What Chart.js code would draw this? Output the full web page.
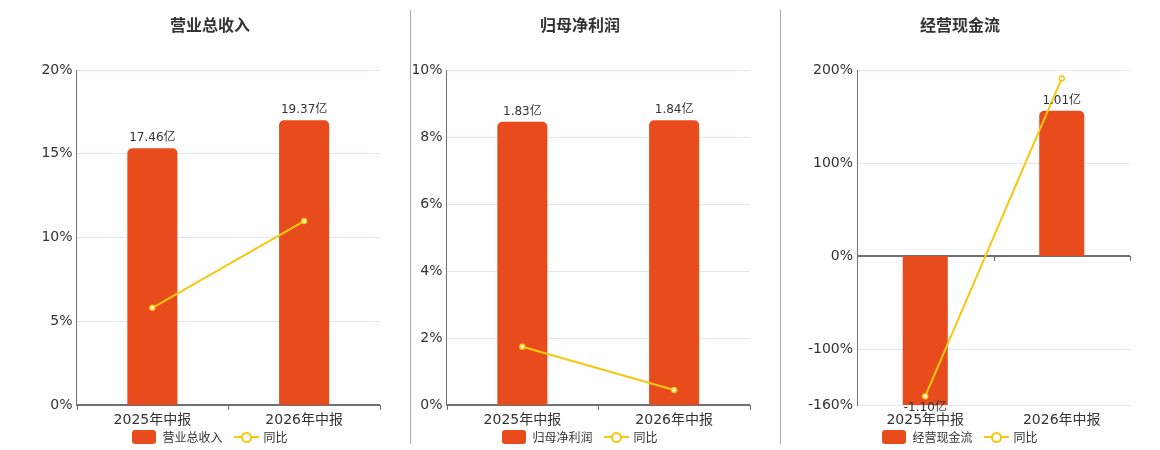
<!DOCTYPE html>
<html>
<head>
<meta charset="utf-8">
<script src="https://cdn.jsdelivr.net/npm/chart.js@4"></script>
<style>
  body { margin: 0; background: #fff; font-family: "DejaVu Sans", "Noto Sans CJK SC", sans-serif; }
  #wrap { position: relative; width: 1160px; height: 450px; overflow: hidden; }
  canvas { position: absolute; top: 0; }
  .divider { position: absolute; top: 10px; width: 1px; height: 434px; background: #aaa; }
  .title { position: absolute; top: 12px; width: 200px; margin-left: -100px; text-align: center;
           font: bold 16px "Noto Sans CJK SC", sans-serif; color: #333; }
  .legend { position: absolute; top: 428px; width: 300px; margin-left: -150px; display: flex;
            justify-content: center; align-items: center; font: 12px "Noto Sans CJK SC", sans-serif; color: #333; }
  .sw-bar { width: 24px; height: 14px; border-radius: 3px; background: #e84c1c; margin-right: 6px; }
  .sw-line { position: relative; width: 25px; height: 14px; margin-left: 11px; margin-right: 5px; }
  .sw-line::before { content: ""; position: absolute; left: 0; right: 0; top: 6px; height: 2px; background: #f5c80f; }
  .sw-line::after { content: ""; position: absolute; left: 7px; top: 2px; width: 7px; height: 7px;
                    border: 2px solid #f5c80f; border-radius: 50%; background: #fff; }
</style>
</head>
<body>
<div id="wrap">
  <canvas id="c1"></canvas>
  <canvas id="c2"></canvas>
  <canvas id="c3"></canvas>
  <div class="divider" style="left:410px"></div>
  <div class="divider" style="left:780px"></div>
  <div class="title" style="left:210px">营业总收入</div>
  <div class="title" style="left:580px">归母净利润</div>
  <div class="title" style="left:960px">经营现金流</div>
  <div class="legend" style="left:210px"><span class="sw-bar"></span>营业总收入<span class="sw-line"></span>同比</div>
  <div class="legend" style="left:580px"><span class="sw-bar"></span>归母净利润<span class="sw-line"></span>同比</div>
  <div class="legend" style="left:960px"><span class="sw-bar"></span>经营现金流<span class="sw-line"></span>同比</div>
</div>
<script>
// categories
const periods = ['2025年中报', '2026年中报'];

// values in 亿
const revenue = [17.46, 19.37];
const profit = [1.83, 1.84];
const cashFlow = [-1.10, 1.01];

// 同比 (%)
const revenueYoy = [5.8, 10.98];
const profitYoy = [1.74, 0.45];
const cashFlowYoy = [-150.5, 191];

// y axis ticks (%)
const revenueTicks = [0, 5, 10, 15, 20];
const profitTicks = [0, 2, 4, 6, 8, 10];
const cashFlowTicks = [-160, -100, 0, 100, 200];

const barColor = '#e84c1c';
const lineColor = '#f5c80f';
const axisColor = '#6e7079';
const textColor = '#333';

// axis line drawn at zero with tick marks between categories
const zeroAxis = {
  id: 'zeroAxis',
  beforeDatasetsDraw(chart) {
    const { ctx, chartArea } = chart;
    const y0 = Math.round(chart.scales.y.getPixelForValue(0));
    const n = chart.data.labels.length;
    const w = chartArea.right - chartArea.left;
    ctx.save();
    ctx.strokeStyle = axisColor;
    ctx.lineWidth = 2;
    ctx.beginPath();
    ctx.moveTo(chartArea.left, y0);
    ctx.lineTo(chartArea.right, y0);
    ctx.stroke();
    ctx.lineWidth = 1;
    for (let i = 0; i <= n; i++) {
      const x = Math.round(chartArea.left + i * w / n) + 0.5;
      ctx.beginPath();
      ctx.moveTo(x, y0);
      ctx.lineTo(x, y0 + 5);
      ctx.stroke();
    }
    ctx.restore();
  }
};

// 亿 labels on the bars
const barLabels = {
  id: 'barLabels',
  afterDatasetsDraw(chart) {
    const { ctx, chartArea } = chart;
    const meta = chart.getDatasetMeta(0);
    ctx.save();
    ctx.font = '12px "DejaVu Sans", "Noto Sans CJK SC"';
    ctx.fillStyle = textColor;
    ctx.textAlign = 'center';
    meta.data.forEach((bar, i) => {
      const v = chart.data.datasets[0].data[i];
      const text = v.toFixed(2) + '亿';
      if (v >= 0) {
        ctx.textBaseline = 'bottom';
        ctx.fillText(text, bar.x, bar.y - 4);
      } else {
        ctx.textBaseline = 'top';
        ctx.fillText(text, bar.x, Math.min(bar.y, chartArea.bottom) - 3);
      }
    });
    ctx.restore();
  }
};

function makeChart(id, left, width, yWidth, values, yoy, ticks) {
  const canvas = document.getElementById(id);
  canvas.style.left = left + 'px';
  canvas.style.width = width + 'px';
  canvas.style.height = '450px';
  const yMin = ticks[0];
  const yMax = ticks[ticks.length - 1];
  const barMax = Math.max(...values.map(Math.abs)) / 0.85;
  const barMin = barMax * yMin / yMax;
  return new Chart(canvas, {
    data: {
      labels: periods,
      datasets: [
        {
          type: 'bar',
          label: 'bar',
          data: values,
          yAxisID: 'y1',
          backgroundColor: barColor,
          borderRadius: 5,
          borderSkipped: 'start',
          barPercentage: 1,
          categoryPercentage: 0.33,
          order: 1
        },
        {
          type: 'line',
          label: '同比',
          data: yoy,
          yAxisID: 'y',
          borderColor: lineColor,
          borderWidth: 2,
          pointRadius: 2.5,
          pointBorderWidth: 1.5,
          pointBackgroundColor: '#fff',
          pointBorderColor: lineColor,
          order: 0
        }
      ]
    },
    options: {
      responsive: false,
      maintainAspectRatio: false,
      animation: false,
      layout: { padding: { top: 70, bottom: 15, left: 0, right: 30 } },
      plugins: { legend: { display: false }, tooltip: { enabled: false } },
      scales: {
        x: {
          grid: { display: false, drawTicks: false },
          border: { display: false },
          ticks: { color: textColor, font: { size: 14, family: '"DejaVu Sans", "Noto Sans CJK SC"' }, padding: 7 },
          afterFit(scale) { scale.height = 30; }
        },
        y: {
          position: 'left',
          min: yMin,
          max: yMax,
          afterBuildTicks(scale) { scale.ticks = ticks.map(v => ({ value: v })); },
          grid: { color: '#e0e6f1', drawTicks: false },
          border: { display: true, color: axisColor, width: 1 },
          ticks: {
            color: textColor,
            padding: 4,
            font: { size: 14, family: '"DejaVu Sans"' },
            callback: v => v + '%'
          },
          afterFit(scale) { scale.width = yWidth; }
        },
        y1: { display: false, min: barMin, max: barMax }
      }
    },
    plugins: [zeroAxis, barLabels]
  });
}

makeChart('c1', 0, 410, 76.5, revenue, revenueYoy, revenueTicks);
makeChart('c2', 410, 370, 36.5, profit, profitYoy, profitTicks);
makeChart('c3', 780, 380, 77, cashFlow, cashFlowYoy, cashFlowTicks);
</script>
</body>
</html>
